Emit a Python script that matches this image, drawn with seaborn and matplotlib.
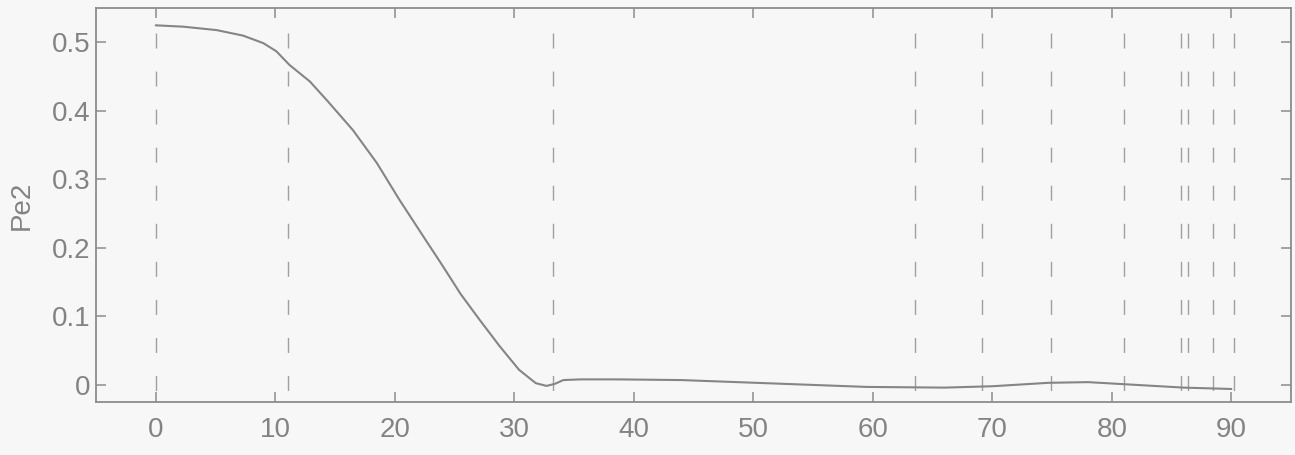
import matplotlib
matplotlib.use("Agg")
import matplotlib.pyplot as plt
import seaborn as sns
import pandas as pd

# ---- data ----
t_values = [0, 2.3, 5.1, 7.3, 9.0, 10.1, 11.2, 12.9, 14.4, 16.5, 18.5, 20.4,
            22.4, 24.0, 25.5, 27.1, 28.8, 30.4, 31.8, 32.7, 33.4, 34.1, 35.5,
            38.8, 44, 51, 59.5, 66, 70, 74.7, 78, 81, 86, 90]
pe2_values = [0.525, 0.523, 0.518, 0.510, 0.499, 0.487, 0.467, 0.443, 0.414,
              0.372, 0.324, 0.270, 0.2165, 0.174, 0.133, 0.095, 0.056, 0.022,
              0.0025, -0.0015, 0.0015, 0.007, 0.008, 0.008, 0.007, 0.0025,
              -0.003, -0.004, -0.002, 0.003, 0.004, 0.001, -0.004, -0.006]
event_t = [0, 11.1, 33.2, 63.5, 69.1, 74.9, 81.0, 85.8, 86.4, 88.5, 90.2]
event_top, event_bottom = 0.514, -0.02
x_ticks = [0, 10, 20, 30, 40, 50, 60, 70, 80, 90]
y_ticks = [0, 0.1, 0.2, 0.3, 0.4, 0.5]
y_ticklabels = ["0", "0.1", "0.2", "0.3", "0.4", "0.5"]
y_label = "Pe2"

df = pd.DataFrame({"t": t_values, "Pe2": pe2_values})

sns.set_theme(style="white")
plt.rcParams["font.family"] = ["Liberation Sans", "DejaVu Sans"]

bg = "#f7f7f7"
gray_text = "#838383"
gray_axis = "#8c8c8c"

fig = plt.figure(figsize=(12.95, 4.55), dpi=100, facecolor=bg)
ax = fig.add_axes([0.0741, 0.1165, 0.9229, 0.8655])
ax.set_facecolor(bg)

for xe in event_t:
    ax.plot([xe, xe], [event_top, event_bottom], color="#a0a0a0", lw=1.0,
            dashes=(10.8, 16.6), zorder=1)

sns.lineplot(data=df, x="t", y="Pe2", ax=ax, color="#858585", lw=1.5,
             zorder=2, estimator=None, sort=False)

ax.set_xlim(-5, 95)
ax.set_ylim(-0.025, 0.55)
ax.set_xticks(x_ticks)
ax.set_xticklabels([str(v) for v in x_ticks])
ax.set_yticks(y_ticks)
ax.set_yticklabels(y_ticklabels)
ax.set_xlabel("")
ax.set_ylabel(y_label, fontsize=20, color=gray_text, labelpad=12)

ax.tick_params(axis="both", direction="in", length=7, width=1.1,
               color=gray_axis, labelcolor=gray_text, labelsize=20,
               top=True, right=True, bottom=True, left=True)
ax.tick_params(axis="x", pad=11)
ax.tick_params(axis="y", pad=4)

for s in ax.spines.values():
    s.set_color(gray_axis)
    s.set_linewidth(1.3)

fig.savefig("out.png", dpi=100, facecolor=bg)
